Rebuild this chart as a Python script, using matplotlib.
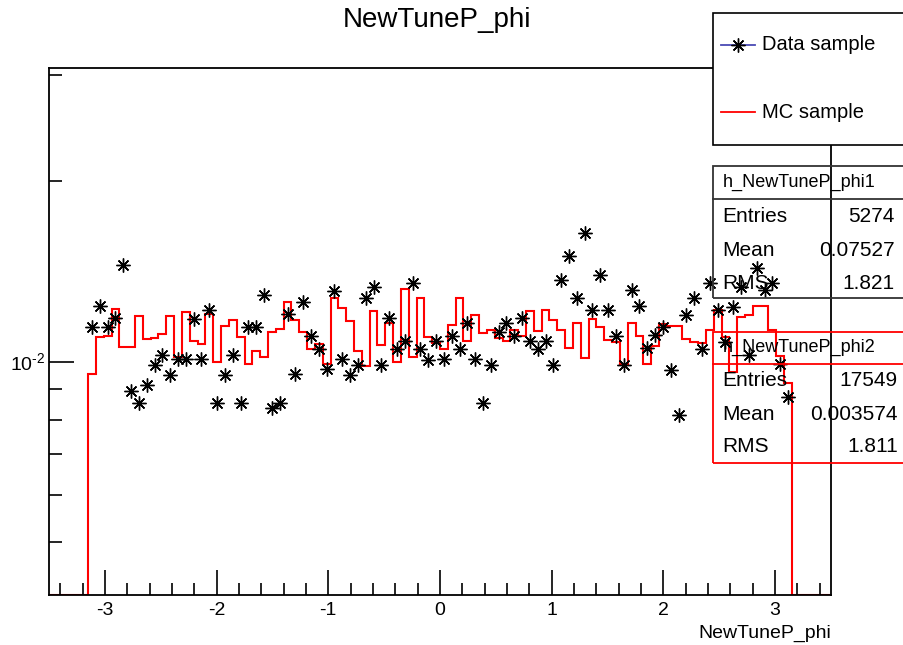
import numpy as np
import matplotlib
matplotlib.use("Agg")
import matplotlib.pyplot as plt
from matplotlib.lines import Line2D
from matplotlib.patches import Rectangle
from matplotlib.ticker import FixedLocator, FixedFormatter, MultipleLocator, NullFormatter, LogLocator

plt.rcParams['font.family'] = ['Liberation Sans', 'DejaVu Sans']
plt.rcParams['mathtext.fontset'] = 'custom'
plt.rcParams['mathtext.rm'] = 'Liberation Sans'
plt.rcParams['mathtext.it'] = 'Liberation Sans:italic'
plt.rcParams['axes.unicode_minus'] = False

# binning: 100 bins on [-3.5, 3.5], only bins 5..94 are filled (phi in -pi..pi)
x_lo, x_hi, n_bins = -3.5, 3.5, 100
first_bin = 5

# MC sample (normalised), one value per filled bin
mc_vals = [0.00954, 0.01099, 0.01103, 0.01224, 0.01058, 0.01058, 0.01191, 0.01091, 0.01095, 0.01112,
           0.01191, 0.01018, 0.01210, 0.01082, 0.01070, 0.01200, 0.00998, 0.01146, 0.01173, 0.01099,
           0.00991, 0.01042, 0.01018, 0.01120, 0.01133, 0.01257, 0.01173, 0.01120, 0.01050, 0.01070,
           0.00991, 0.01276, 0.01228, 0.01169, 0.01042, 0.00983, 0.01214, 0.01066, 0.01160, 0.00998,
           0.01321, 0.01018, 0.01276, 0.01099, 0.01074, 0.01050, 0.01151, 0.01276, 0.01082, 0.01196,
           0.01116, 0.01129, 0.01095, 0.01082, 0.01129, 0.01103, 0.01214, 0.01125, 0.01219, 0.01173,
           0.01129, 0.01054, 0.01160, 0.01014, 0.01178, 0.01142, 0.01086, 0.01078, 0.00991, 0.01160,
           0.01103, 0.00991, 0.01062, 0.01155, 0.01146, 0.01146, 0.01091, 0.01078, 0.01074, 0.01129,
           0.01219, 0.01099, 0.00961, 0.01187, 0.01196, 0.01238, 0.01238, 0.01129, 0.01022, 0.00921]

# Data sample (normalised)
data_vals = [0.01142, 0.01238, 0.01142, 0.01182, 0.01449, 0.00893, 0.00853, 0.00914, 0.00987, 0.01026,
             0.00950, 0.01010, 0.01010, 0.01178, 0.01010, 0.01219, 0.00853, 0.00950, 0.01026, 0.00853,
             0.01142, 0.01142, 0.01291, 0.00837, 0.00853, 0.01200, 0.00954, 0.01257, 0.01103, 0.01050,
             0.00972, 0.01311, 0.01010, 0.00950, 0.00987, 0.01276, 0.01332, 0.00987, 0.01182, 0.01050,
             0.01082, 0.01352, 0.01050, 0.01006, 0.01082, 0.01010, 0.01103, 0.01050, 0.01160, 0.01010,
             0.00853, 0.00987, 0.01120, 0.01160, 0.01103, 0.01182, 0.01082, 0.01050, 0.01082, 0.00987,
             0.01368, 0.01500, 0.01276, 0.01638, 0.01219, 0.01394, 0.01219, 0.01103, 0.00987, 0.01316,
             0.01238, 0.01054, 0.01107, 0.01142, 0.00968, 0.00815, 0.01196, 0.01276, 0.01050, 0.01352,
             0.01219, 0.01078, 0.01233, 0.01332, 0.01026, 0.01432, 0.01316, 0.01352, 0.00991, 0.00873]

stats1 = [("Entries", "5274"), ("Mean", "0.07527"), ("RMS", "1.821")]
stats2 = [("Entries", "17549"), ("Mean", "0.003574"), ("RMS", "1.811")]

y_lo, y_hi = 4.08e-3, 3.086e-2

W, H = 904, 645
fig = plt.figure(figsize=(W / 100, H / 100), dpi=100)
ax = fig.add_axes([49 / W, 1 - 595 / H, (831 - 49) / W, (595 - 68) / H])


def fx(px):
    return px / W


def fy(py):
    return 1 - py / H


edges = np.linspace(x_lo, x_hi, n_bins + 1)
mc_full = np.zeros(n_bins)
mc_full[first_bin:first_bin + len(mc_vals)] = mc_vals
mc_draw = np.where(mc_full > 0, mc_full, y_lo)  # empty bins sit on the frame, like ROOT
ax.stairs(mc_draw, edges, baseline=None, color='red', lw=1.5)

centers = 0.5 * (edges[:-1] + edges[1:])
data_x = centers[first_bin:first_bin + len(data_vals)]
ax.plot(data_x, data_vals, ls='none', marker=(8, 2, 0), ms=10, mew=1.0, color='black')

ax.set_xlim(x_lo, x_hi)
ax.set_yscale('log')
ax.set_ylim(y_lo, y_hi)
ax.xaxis.set_major_locator(MultipleLocator(1))
ax.xaxis.set_minor_locator(MultipleLocator(0.2))
ax.yaxis.set_major_locator(FixedLocator([1e-2]))
ax.yaxis.set_major_formatter(FixedFormatter([r'10$^{\text{-2}}$']))
ax.yaxis.set_minor_locator(LogLocator(base=10, subs=np.arange(2, 10)))
ax.yaxis.set_minor_formatter(NullFormatter())
ax.tick_params(which='both', direction='in', top=False, right=False, width=1.2, labelsize=14)
ax.tick_params(which='major', length=18, pad=5)
ax.tick_params(which='minor', length=9)
ax.tick_params(axis='y', which='major', pad=3)
for s in ax.spines.values():
    s.set_linewidth(1.3)

ax.set_xlabel('NewTuneP_phi', loc='right', fontsize=14, labelpad=4)
fig.text(fx(437), fy(20), 'NewTuneP_phi', ha='center', va='center', fontsize=20)

# legend box (opaque, runs past the right edge)
fig.add_artist(Rectangle((fx(712.7), fy(145)), fx(930) - fx(712.7), fy(13) - fy(145),
                         transform=fig.transFigure, facecolor='white', edgecolor='black', lw=1.2))
fig.add_artist(Line2D([fx(721), fx(755)], [fy(45), fy(45)], color='#4a4ab4', lw=1.3,
                      transform=fig.transFigure))
fig.add_artist(Line2D([fx(738)], [fy(45)], ls='none', marker=(8, 2, 0), ms=10, mew=1.0,
                      color='black', transform=fig.transFigure))
fig.text(fx(762), fy(45), 'Data sample', ha='left', va='center', fontsize=14.5)
fig.add_artist(Line2D([fx(721), fx(755)], [fy(112), fy(112)], color='red', lw=1.3,
                      transform=fig.transFigure))
fig.text(fx(762), fy(112), 'MC sample', ha='left', va='center', fontsize=14.5)


def stat_box(top, head_line, bottom, title, rows, rows_y, right_x, colour):
    fig.add_artist(Rectangle((fx(712.7), fy(bottom)), fx(930) - fx(712.7), fy(top) - fy(bottom),
                             transform=fig.transFigure, facecolor='none', edgecolor=colour, lw=1.3))
    fig.add_artist(Line2D([fx(712.7), fx(930)], [fy(head_line), fy(head_line)], color=colour, lw=1.3,
                          transform=fig.transFigure))
    fig.text(fx(722.5), fy(0.5 * (top + head_line)), title, ha='left', va='center', fontsize=13)
    for (name, val), yy in zip(rows, rows_y):
        fig.text(fx(722.5), fy(yy), name, ha='left', va='center', fontsize=15)
        fig.text(fx(right_x), fy(yy), val, ha='right', va='center', fontsize=15)


stat_box(165.7, 199, 297.7, 'h_NewTuneP_phi1', stats1, [216.7, 250, 283.3], 895, '#333333')
stat_box(331.7, 364, 463.3, 'h_NewTuneP_phi2', stats2, [380, 414.3, 446], 898, 'red')

fig.savefig('out.png', dpi=100)
